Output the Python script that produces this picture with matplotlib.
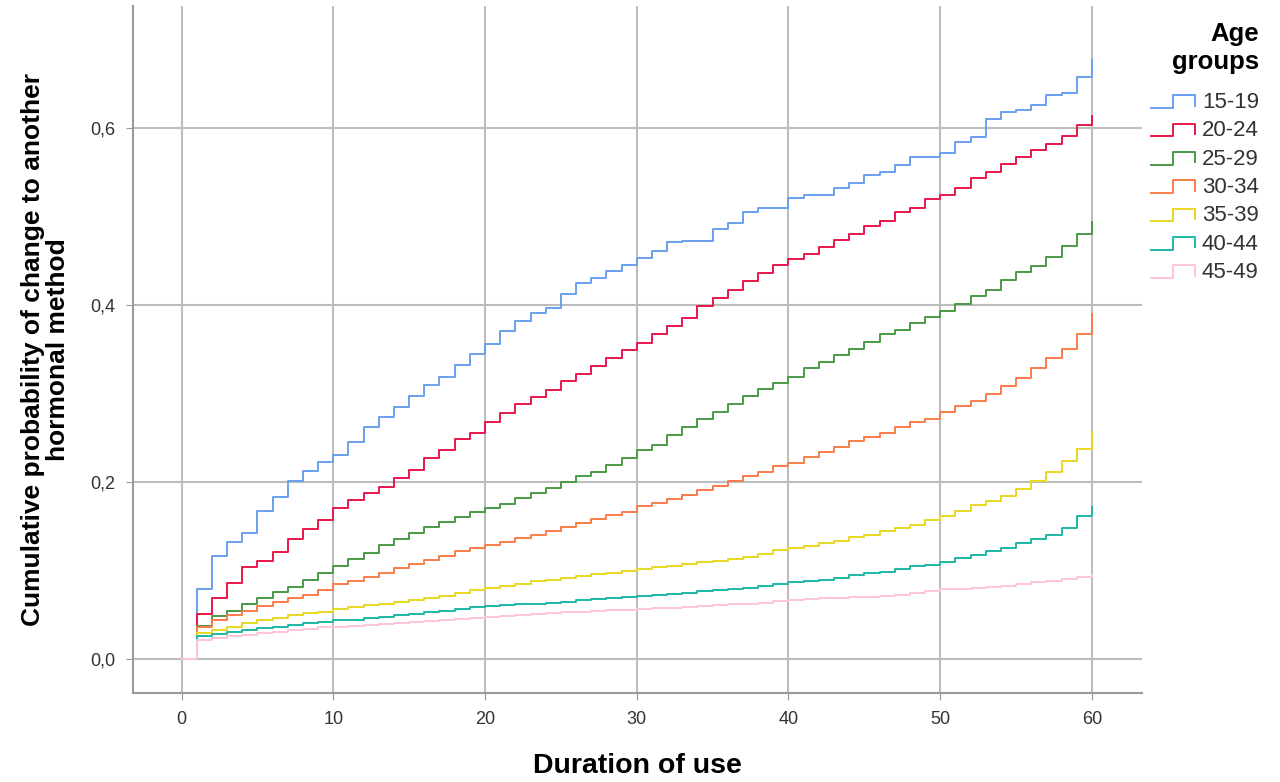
import numpy as np
import matplotlib.pyplot as plt
from matplotlib.lines import Line2D
from matplotlib.legend_handler import HandlerLine2D
from matplotlib.ticker import FuncFormatter

plt.rcParams["font.family"] = ["Liberation Sans", "DejaVu Sans"]

# --- Datos ---
meses = np.arange(0, 61)

g15_19 = [0, .080, .117, .133, .143, .168, .183, .202, .213, .223, .231,
          .245, .263, .274, .285, .298, .310, .319, .333, .345, .356,
          .371, .382, .391, .397, .413, .425, .431, .439, .445, .453,
          .461, .471, .473, .473, .486, .493, .505, .510, .510, .521,
          .524, .524, .532, .538, .547, .550, .558, .567, .567, .572,
          .584, .590, .610, .618, .621, .626, .638, .640, .658, .677]
g20_24 = [0, .051, .069, .086, .104, .111, .121, .136, .147, .157, .171,
          .180, .188, .195, .205, .214, .227, .236, .249, .256, .268,
          .278, .288, .296, .304, .314, .322, .331, .340, .350, .357,
          .367, .376, .386, .399, .408, .417, .427, .436, .445, .452,
          .458, .466, .474, .481, .489, .495, .505, .510, .520, .525,
          .532, .544, .551, .560, .567, .575, .582, .591, .604, .614]
g25_29 = [0, .038, .049, .055, .062, .069, .076, .082, .090, .098, .105,
          .113, .120, .129, .136, .143, .149, .155, .161, .167, .171,
          .176, .182, .188, .193, .200, .207, .212, .220, .227, .236,
          .242, .253, .262, .272, .279, .289, .298, .305, .312, .319,
          .329, .336, .344, .351, .359, .367, .372, .380, .387, .394,
          .401, .410, .417, .428, .437, .444, .455, .467, .480, .494]
g30_34 = [0, .037, .045, .050, .055, .060, .065, .069, .073, .078, .085,
          .089, .093, .098, .103, .108, .112, .117, .122, .126, .129,
          .133, .137, .141, .145, .149, .154, .158, .163, .167, .173,
          .177, .181, .186, .191, .196, .201, .207, .212, .218, .222,
          .229, .234, .240, .247, .251, .256, .262, .268, .272, .279,
          .286, .292, .300, .309, .318, .329, .340, .351, .368, .390]
g35_39 = [0, .030, .033, .037, .041, .044, .047, .050, .052, .054, .057,
          .059, .061, .063, .065, .067, .069, .072, .075, .078, .081,
          .083, .085, .088, .090, .092, .094, .096, .098, .100, .102,
          .104, .106, .108, .110, .111, .113, .116, .119, .123, .126,
          .128, .131, .134, .138, .141, .145, .148, .152, .157, .162,
          .168, .174, .179, .185, .192, .201, .212, .224, .238, .257]
g40_44 = [0, .026, .029, .031, .033, .035, .037, .039, .041, .042, .044,
          .045, .047, .048, .050, .051, .053, .055, .057, .059, .060,
          .061, .062, .063, .064, .065, .067, .068, .069, .070, .072,
          .073, .074, .075, .077, .078, .080, .081, .083, .085, .087,
          .088, .090, .092, .095, .097, .099, .102, .105, .107, .110,
          .114, .118, .122, .126, .131, .136, .140, .148, .162, .172]
g45_49 = [0, .022, .024, .026, .028, .030, .031, .033, .034, .036, .037,
          .038, .039, .040, .041, .042, .043, .044, .046, .047, .048,
          .049, .050, .051, .052, .053, .054, .055, .056, .056, .057,
          .058, .058, .059, .060, .061, .062, .063, .064, .066, .067,
          .068, .069, .069, .070, .071, .072, .073, .075, .077, .079,
          .080, .081, .082, .083, .085, .087, .089, .091, .093, .095]

grupos = ["15-19", "20-24", "25-29", "30-34", "35-39", "40-44", "45-49"]
series = [g15_19, g20_24, g25_29, g30_34, g35_39, g40_44, g45_49]
cores = ["#6a9ff0", "#e8174a", "#4a9a45", "#fb7c48", "#e8d820", "#1db8a6", "#ffc4dd"]


class HandlerDegrau(HandlerLine2D):
    """Legenda em forma de degrau, como no SPSS."""
    def create_artists(self, legend, orig_handle, xdescent, ydescent,
                       width, height, fontsize, trans):
        x0, x1 = -xdescent, -xdescent + width
        xm = x0 + width * 0.5
        yb, yt = -ydescent + height * 0.0, -ydescent + height * 0.8
        ln = Line2D([x0, xm, xm, x1, x1], [yb, yb, yt, yt, yb + height * 0.15],
                    color=orig_handle.get_color(), lw=orig_handle.get_linewidth())
        ln.set_transform(trans)
        return [ln]


fig = plt.figure(figsize=(12.8, 7.82), dpi=100)
ax = fig.add_axes([133 / 1280, 1 - 693 / 782, (1142 - 133) / 1280, (693 - 6) / 782])

handles = []
for nome, ys, cor in zip(grupos, series, cores):
    h, = ax.step(meses, ys, where="post", color=cor, lw=1.4, label=nome)
    handles.append(h)

ax.set_xlim(-3.2, 63.3)
ax.set_ylim(-0.038, 0.738)
ax.set_xticks(range(0, 61, 10))
ax.set_yticks([0, 0.2, 0.4, 0.6])
ax.yaxis.set_major_formatter(FuncFormatter(lambda v, p: f"{v:.1f}".replace(".", ",")))
ax.grid(True, color="#bdbdbd", lw=1.5)
ax.set_axisbelow(True)
for s in ["top", "right"]:
    ax.spines[s].set_visible(False)
for s in ["left", "bottom"]:
    ax.spines[s].set_color("#9a9a9a")
    ax.spines[s].set_linewidth(1.5)
ax.tick_params(length=5, color="#9a9a9a", labelsize=13, labelcolor="#333333", pad=8)

ax.set_xlabel("Duration of use", fontsize=20.5, fontweight="bold", labelpad=18)
ax.set_ylabel("Cumulative probability of change to another\nhormonal method",
              fontsize=19, fontweight="bold", labelpad=14, linespacing=1.05)

leg = fig.legend(handles=handles, labels=grupos, title="Age\ngroups",
                 loc="upper right", bbox_to_anchor=(1279 / 1280, 1 - 2 / 782),
                 frameon=False, fontsize=16, handlelength=2.0, handletextpad=0.3,
                 labelspacing=0.33, handler_map={Line2D: HandlerDegrau()})
leg.get_title().set_fontsize(18.5)
leg.get_title().set_fontweight("bold")
leg.get_title().set_multialignment("right")
leg._legend_box.align = "right"
leg._legend_box.sep = 13
for t in leg.get_texts():
    t.set_color("#333333")

fig.savefig("out.png", dpi=100)
